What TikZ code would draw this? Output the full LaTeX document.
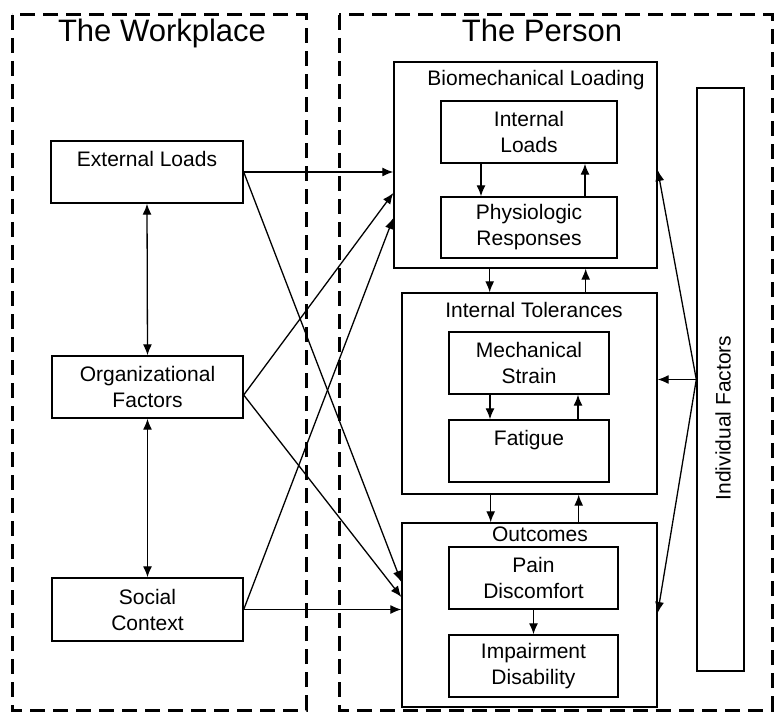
\documentclass[tikz,border=0pt]{standalone}
\usepackage{fontspec}
\setmainfont{Liberation Sans}
\usetikzlibrary{arrows.meta}

\begin{document}
\begin{tikzpicture}[x=1pt, y=-1pt,
  box/.style={draw, line width=1.4pt, align=center, inner sep=0pt, minimum height=62pt, font=\fontsize{21}{26}\selectfont},
  group/.style={draw, line width=1.4pt, inner sep=0pt},
  heading/.style={anchor=base, font=\fontsize{21}{26}\selectfont},
  zonetitle/.style={anchor=base, font=\fontsize{31}{37}\selectfont},
  zone/.style={draw, line width=3pt, dash pattern=on 15pt off 8pt},
  link/.style={draw, line width=1.3pt, -{Latex[length=11pt,width=9pt]}},
  twoway/.style={draw, line width=1.3pt, {Latex[length=11pt,width=9pt]}-{Latex[length=11pt,width=9pt]}}]
\useasboundingbox (0,0) rectangle (774,714);

\draw[zone] (12,15) rectangle (306,710);
\draw[zone] (339,15) rectangle (772,710);
\node[zonetitle] (wpt) at (162,42) {The Workplace};
\node[zonetitle] (pst) at (542,42) {The Person};

\node[box, minimum width=192pt] (ext) at (147,172) {External Loads\\\mbox{}};
\node[box, minimum width=191pt] (org) at (147.5,387) {Organizational\\Factors};
\node[box, minimum width=191pt, minimum height=63pt] (soc) at (147.5,609.5) {Social\\Context};

\node[group, minimum width=263pt, minimum height=206pt] (bio) at (525.5,165) {};
\node[heading] (biot) at (536,86) {Biomechanical Loading};
\node[box, minimum width=176pt] (load) at (529,132) {Internal\\Loads};
\node[box, minimum width=176pt, minimum height=61pt] (resp) at (529,227.5) {Physiologic\\Responses};

\node[group, minimum width=255pt, minimum height=201pt] (tol) at (529.5,393.5) {};
\node[heading] (tolt) at (534,317) {Internal Tolerances};
\node[box, minimum width=160pt] (strain) at (529,363) {Mechanical\\Strain};
\node[box, minimum width=160pt] (fat) at (529,451) {Fatigue\\\mbox{}};

\node[group, minimum width=255pt, minimum height=184pt] (out) at (529.5,615) {};
\node[heading] (outt) at (540,541) {Outcomes};
\node[box, minimum width=169pt] (pain) at (533.5,578) {Pain\\Discomfort};
\node[box, minimum width=169pt] (imp) at (533.5,666) {Impairment\\Disability};

\node[group, minimum width=47pt, minimum height=583pt] (ind) at (720.5,379.5) {};
\node[box, draw=none, minimum height=0pt, rotate=90] (indt) at (723,418) {Individual Factors};

% workplace links
\draw[twoway] (ext.south) -- (org.north);
\draw[twoway] (org.south) -- (soc.north);
\draw[link] (ext.east) -- (ext.east -| bio.west);
\draw[link] (ext.east) -- ([yshift=33pt]out.west);
\draw[link] ([yshift=-8pt]org.east) -- ([yshift=-28pt]bio.west);
\draw[link] ([yshift=-8pt]org.east) -- ([yshift=18pt]out.west);
\draw[link] (soc.east) -- ([yshift=-53pt]bio.west);
\draw[link] (soc.east) -- (soc.east -| out.west);

% person links
\draw[link] ([xshift=-48pt]load.south) -- ([xshift=-48pt]resp.north);
\draw[link] ([xshift=56pt]resp.north) -- ([xshift=56pt]load.south);
\draw[link] ([xshift=-168pt]bio.south east) -- ([xshift=-168pt]tol.north east);
\draw[link] ([xshift=-72pt]tol.north east) -- ([xshift=-72pt]bio.south east);
\draw[link] ([xshift=-39pt]strain.south) -- ([xshift=-39pt]fat.north);
\draw[link] ([xshift=49pt]fat.north) -- ([xshift=49pt]strain.south);
\draw[link] ([xshift=-167pt]tol.south east) -- ([xshift=-167pt]out.north east);
\draw[link] ([xshift=-79pt]out.north east) -- ([xshift=-79pt]tol.south east);
\draw[link] (pain.south) -- (imp.north);

\draw[link] (ind.west) -- (ind.west -| tol.east);
\draw[link] (ind.west) -- ([yshift=-5pt]bio.east);
\draw[link] (ind.west) -- ([yshift=2pt]out.east);
\end{tikzpicture}
\end{document}
